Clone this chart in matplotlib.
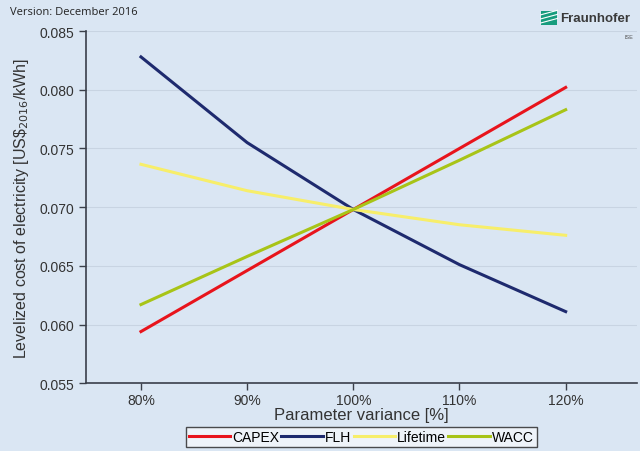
import matplotlib
matplotlib.use("Agg")
import matplotlib.pyplot as plt
import numpy as np
from matplotlib.patches import Polygon

plt.rcParams['font.family'] = ['Liberation Sans', 'DejaVu Sans']

variance = [80, 90, 100, 110, 120]
xticklabels = ["80%", "90%", "100%", "110%", "120%"]
capex = [0.0594, 0.0646, 0.0698, 0.0750, 0.0802]
flh = [0.0828, 0.0755, 0.0698, 0.0651, 0.0611]
lifetime = [0.07365, 0.0714, 0.0698, 0.0685, 0.0676]
wacc = [0.0617, 0.0658, 0.0698, 0.0740, 0.0783]
yticks = [0.055, 0.060, 0.065, 0.070, 0.075, 0.080, 0.085]

bg = '#dae6f3'
fig = plt.figure(figsize=(6.4, 4.52), dpi=100, facecolor=bg)
ax = fig.add_axes([0.134, 0.150, 0.861, 0.779])
ax.set_facecolor(bg)

ax.plot(variance, capex, color='#e8141c', lw=2.2, label='CAPEX')
ax.plot(variance, flh, color='#1e2a6e', lw=2.2, label='FLH')
ax.plot(variance, lifetime, color='#f7ee6a', lw=2.2, label='Lifetime')
ax.plot(variance, wacc, color='#a8c417', lw=2.2, label='WACC')

ax.set_xlim(74.8, 126.7)
ax.set_ylim(0.055, 0.085)
ax.set_yticks(yticks)
ax.set_yticklabels([f"{v:.3f}" for v in yticks])
ax.set_xticks(variance)
ax.set_xticklabels(xticklabels)
ax.grid(axis='y', color='#c8d4e2', lw=0.8)
ax.set_axisbelow(True)
for s in ['top', 'right']:
    ax.spines[s].set_visible(False)
for s in ['left', 'bottom']:
    ax.spines[s].set_color('#3a3f4a')
    ax.spines[s].set_linewidth(1.2)
ax.tick_params(colors='#3a3f4a', labelsize=10, length=5, width=1)
ax.tick_params(axis='x', pad=2)
for lab in ax.get_xticklabels() + ax.get_yticklabels():
    lab.set_color('#333333')

ax.set_xlabel("Parameter variance [%]", fontsize=12, color='#333333', labelpad=0)
ax.set_ylabel(r"Levelized cost of electricity [US\$$_{2016}$/kWh]", fontsize=11.5, color='#333333', labelpad=6)

leg = ax.legend(loc='upper center', bbox_to_anchor=(0.5, -0.125), ncol=4, frameon=True,
                fontsize=10, handlelength=3.0, handletextpad=0.15, columnspacing=0.15,
                borderpad=0.2, borderaxespad=0, fancybox=False, edgecolor='#222222')
leg.get_frame().set_facecolor('#f4f7fb')
leg.get_frame().set_linewidth(1.0)

fig.text(0.016, 0.972, "Version: December 2016", fontsize=8, color='#222222', va='center', ha='left',
         family=['Open Sans', 'DejaVu Sans'])

# Fraunhofer logo
lx0, ly0, lw_, lh_ = 0.845, 0.942, 0.026, 0.031
fig.patches.append(Polygon([[lx0, ly0], [lx0 + lw_, ly0], [lx0 + lw_, ly0 + lh_], [lx0, ly0 + lh_]],
                           closed=True, transform=fig.transFigure, facecolor='#179c7d', edgecolor='none'))
for k in range(3):
    yy = ly0 + 0.005 + k * 0.009
    fig.lines.append(plt.Line2D([lx0, lx0 + lw_], [yy, yy + 0.010], transform=fig.transFigure,
                                color='white', lw=0.8))
fig.text(0.875, 0.957, "Fraunhofer", fontsize=9.5, fontweight='bold', color='#3a3a3a', va='center', ha='left')
fig.text(0.990, 0.918, "ISE", fontsize=4, color='#555555', va='center', ha='right')

fig.savefig("out.png", dpi=100, facecolor=bg)
